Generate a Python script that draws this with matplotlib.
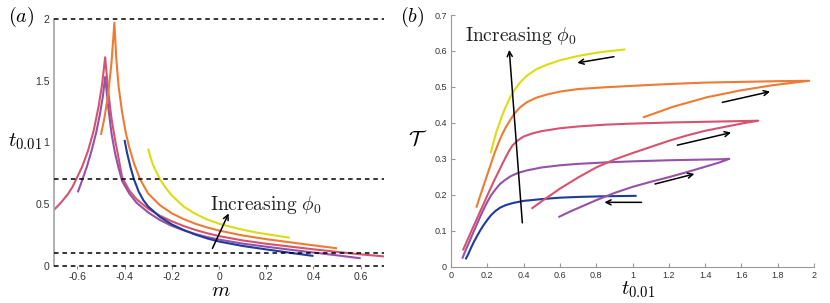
import numpy as np
import matplotlib
matplotlib.use("Agg")
import matplotlib.pyplot as plt
from matplotlib.ticker import FuncFormatter

plt.rcParams.update({
    "font.family": ["Liberation Sans", "DejaVu Sans"],
    "mathtext.fontset": "cm",
    "axes.unicode_minus": False,
})

COLORS = {
    "blue":   "#1d3c9c",
    "purple": "#9552a7",
    "pink":   "#d6526f",
    "orange": "#ee7b33",
    "yellow": "#dcdc12",
}

# ── (a) t_0.01 against m, one curve per phi_0 ────────────────────────────────
blue_m = [-0.40, -0.39, -0.375, -0.36, -0.34, -0.32, -0.30, -0.25, -0.20, -0.15,
          -0.10, -0.05, 0.00, 0.10, 0.20, 0.30, 0.40]
blue_t = [1.02, 0.92, 0.80, 0.70, 0.60, 0.53, 0.48, 0.395, 0.335, 0.29,
          0.252, 0.221, 0.196, 0.16, 0.132, 0.105, 0.079]

purple_m = [-0.598, -0.58, -0.56, -0.54, -0.52, -0.505, -0.492, -0.482, -0.47, -0.455,
            -0.44, -0.425, -0.41, -0.38, -0.35, -0.30, -0.25, -0.20, -0.15, -0.10,
            -0.05, 0.00, 0.10, 0.20, 0.30, 0.40, 0.50, 0.60]
purple_t = [0.595, 0.69, 0.80, 0.93, 1.08, 1.22, 1.37, 1.53, 1.30, 1.07,
            0.91, 0.79, 0.685, 0.585, 0.512, 0.432, 0.37, 0.323, 0.287, 0.257,
            0.232, 0.212, 0.179, 0.154, 0.13, 0.107, 0.084, 0.06]

pink_m = [-0.70, -0.67, -0.64, -0.62, -0.605, -0.58, -0.555, -0.53, -0.51, -0.495,
          -0.482, -0.47, -0.455, -0.44, -0.425, -0.41, -0.38, -0.35, -0.30, -0.25,
          -0.20, -0.15, -0.10, -0.05, 0.00, 0.10, 0.20, 0.30, 0.40, 0.50, 0.60, 0.70]
pink_t = [0.45, 0.51, 0.58, 0.64, 0.70, 0.80, 0.93, 1.10, 1.29, 1.47,
          1.69, 1.43, 1.19, 1.02, 0.87, 0.715, 0.61, 0.54, 0.462, 0.405,
          0.36, 0.322, 0.29, 0.263, 0.24, 0.205, 0.178, 0.155, 0.133, 0.112, 0.092, 0.075]

orange_m = [-0.50, -0.485, -0.47, -0.455, -0.443, -0.435, -0.425, -0.41, -0.395, -0.38,
            -0.36, -0.334, -0.30, -0.25, -0.20, -0.15, -0.10, -0.05, 0.00, 0.10,
            0.20, 0.30, 0.40, 0.50]
orange_t = [1.06, 1.20, 1.38, 1.65, 1.97, 1.68, 1.45, 1.24, 1.08, 0.96,
            0.83, 0.70, 0.585, 0.49, 0.425, 0.378, 0.34, 0.31, 0.285, 0.245,
            0.215, 0.19, 0.165, 0.141]

yellow_m = [-0.30, -0.29, -0.28, -0.265, -0.25, -0.225, -0.20, -0.15, -0.10, -0.05,
            0.00, 0.05, 0.10, 0.15, 0.20, 0.25, 0.30]
yellow_t = [0.95, 0.88, 0.82, 0.76, 0.70, 0.63, 0.57, 0.48, 0.42, 0.375,
            0.34, 0.315, 0.292, 0.272, 0.256, 0.241, 0.227]

hlines_a = [0.0, 0.1, 0.7, 2.0]

# ── (b) T against t_0.01 ─────────────────────────────────────────────────────
blue_x = [0.083, 0.095, 0.11, 0.125, 0.14, 0.16, 0.18, 0.20, 0.22, 0.245,
          0.27, 0.30, 0.34, 0.40, 0.50, 0.60, 0.70, 0.85, 1.017]
blue_y = [0.023, 0.035, 0.052, 0.068, 0.082, 0.100, 0.116, 0.130, 0.143, 0.155,
          0.164, 0.171, 0.177, 0.183, 0.188, 0.192, 0.194, 0.196, 0.197]

purple_x = [0.597, 0.65, 0.70, 0.80, 0.90, 1.00, 1.10, 1.20, 1.30, 1.40, 1.48, 1.533,
            1.50, 1.40, 1.20, 1.00, 0.85, 0.70, 0.60, 0.50, 0.42, 0.37, 0.33, 0.30,
            0.27, 0.245, 0.22, 0.20, 0.18, 0.16, 0.14, 0.12, 0.10, 0.08, 0.064]
purple_y = [0.139, 0.152, 0.163, 0.185, 0.205, 0.222, 0.236, 0.249, 0.263, 0.278, 0.290, 0.300,
            0.299, 0.298, 0.296, 0.293, 0.290, 0.286, 0.282, 0.276, 0.268, 0.261, 0.252, 0.242,
            0.230, 0.215, 0.198, 0.180, 0.160, 0.138, 0.115, 0.092, 0.068, 0.045, 0.025]

pink_x = [0.448, 0.50, 0.60, 0.70, 0.80, 0.90, 1.00, 1.10, 1.20, 1.30, 1.40, 1.50, 1.60, 1.693,
          1.60, 1.40, 1.20, 1.00, 0.85, 0.70, 0.60, 0.50, 0.45, 0.40, 0.37, 0.34, 0.32,
          0.30, 0.28, 0.26, 0.24, 0.22, 0.20, 0.18, 0.16, 0.14, 0.12, 0.10, 0.085, 0.068]
pink_y = [0.163, 0.182, 0.217, 0.248, 0.276, 0.298, 0.316, 0.333, 0.350, 0.365, 0.378, 0.388, 0.398, 0.406,
          0.405, 0.403, 0.401, 0.398, 0.395, 0.390, 0.385, 0.377, 0.371, 0.362, 0.352, 0.338, 0.322,
          0.303, 0.283, 0.262, 0.242, 0.220, 0.198, 0.175, 0.153, 0.130, 0.108, 0.085, 0.068, 0.048]

orange_x = [1.063, 1.225, 1.408, 1.592, 1.776, 1.974,
            1.80, 1.60, 1.40, 1.20, 1.00, 0.85, 0.70, 0.60, 0.53, 0.47, 0.42, 0.38,
            0.35, 0.325, 0.30, 0.28, 0.26, 0.24, 0.22, 0.20, 0.18, 0.16, 0.141]
orange_y = [0.416, 0.445, 0.471, 0.490, 0.505, 0.517,
            0.516, 0.514, 0.512, 0.508, 0.503, 0.499, 0.494, 0.487, 0.479, 0.470, 0.458, 0.443,
            0.426, 0.407, 0.386, 0.366, 0.342, 0.316, 0.286, 0.256, 0.226, 0.196, 0.167]

yellow_x = [0.22, 0.235, 0.25, 0.265, 0.28, 0.30, 0.325, 0.35, 0.38, 0.42,
            0.47, 0.53, 0.60, 0.70, 0.80, 0.88, 0.955]
yellow_y = [0.318, 0.348, 0.375, 0.396, 0.418, 0.443, 0.470, 0.492, 0.512, 0.532,
            0.549, 0.562, 0.574, 0.586, 0.595, 0.600, 0.604]

# direction arrows in (b): (x_tail, y_tail, x_head, y_head)
arrows_b = [
    (0.393, 0.122, 0.321, 0.603),
    (0.898, 0.584, 0.696, 0.567),
    (1.495, 0.457, 1.758, 0.487),
    (1.247, 0.338, 1.543, 0.373),
    (1.124, 0.230, 1.341, 0.258),
    (1.050, 0.179, 0.845, 0.179),
]

W, H = 830, 303
fig = plt.figure(figsize=(W / 100, H / 100), dpi=100)

LW = 1.5
fmt = FuncFormatter(lambda v, _: f"{v:g}")

# ── Panel (a) ────────────────────────────────────────────────────────────────
ax1 = fig.add_axes([53.7 / W, 1 - 265.7 / H, 330.6 / W, 246.7 / H])
for m, t, c in [(pink_m, pink_t, "pink"), (purple_m, purple_t, "purple"),
                (blue_m, blue_t, "blue"), (orange_m, orange_t, "orange"),
                (yellow_m, yellow_t, "yellow")]:
    ax1.plot(m, t, color=COLORS[c], lw=LW, solid_capstyle="butt")
for y in hlines_a:
    ax1.axhline(y, color="black", lw=1.1, ls=(0, (3, 2.5)), clip_on=False, zorder=3)

ax1.set_xlim(-0.7, 0.7)
ax1.set_ylim(0, 2)
for s in ["top", "right", "bottom"]:
    ax1.spines[s].set_visible(False)
ax1.spines["left"].set_color("#aaaaaa")
ax1.spines["left"].set_linewidth(1.3)
ax1.set_xticks([-0.6, -0.4, -0.2, 0, 0.2, 0.4, 0.6])
ax1.set_yticks([0, 0.5, 1, 1.5, 2])
ax1.xaxis.set_major_formatter(fmt)
ax1.yaxis.set_major_formatter(fmt)
ax1.tick_params(axis="x", direction="out", length=2.5, color="#888888",
                labelsize=7.5, labelcolor="#333333", pad=2)
ax1.tick_params(axis="y", length=0, labelsize=7.5, labelcolor="#333333", pad=3)

ax1.text(-0.038, 0.49, r"$\mathrm{Increasing}\ \phi_0$", fontsize=14,
         va="center", ha="left", color="#222222")
ax1.annotate("", xy=(0.041, 0.424), xytext=(-0.028, 0.14),
             arrowprops=dict(arrowstyle="->", lw=1.1, color="black",
                             shrinkA=0, shrinkB=0, mutation_scale=9))

# ── Panel (b) ────────────────────────────────────────────────────────────────
ax2 = fig.add_axes([451 / W, 1 - 266.7 / H, 363 / W, 251.7 / H])
for x, y, c in [(blue_x, blue_y, "blue"), (purple_x, purple_y, "purple"),
                (pink_x, pink_y, "pink"), (orange_x, orange_y, "orange"),
                (yellow_x, yellow_y, "yellow")]:
    ax2.plot(x, y, color=COLORS[c], lw=LW)
for x0, y0, x1, y1 in arrows_b:
    ax2.annotate("", xy=(x1, y1), xytext=(x0, y0),
                 arrowprops=dict(arrowstyle="->", lw=1.1, color="black",
                                 shrinkA=0, shrinkB=0, mutation_scale=9))
ax2.text(0.077, 0.642, r"$\mathrm{Increasing}\ \phi_0$", fontsize=14,
         va="center", ha="left", color="#222222")

ax2.set_xlim(0, 2)
ax2.set_ylim(0, 0.7)
for s in ["top", "right"]:
    ax2.spines[s].set_visible(False)
for s in ["left", "bottom"]:
    ax2.spines[s].set_color("#999999")
    ax2.spines[s].set_linewidth(0.8)
ax2.set_xticks(np.arange(0, 2.01, 0.2))
ax2.set_yticks(np.arange(0, 0.71, 0.1))
ax2.xaxis.set_major_formatter(fmt)
ax2.yaxis.set_major_formatter(fmt)
ax2.tick_params(direction="in", length=3, color="#999999", labelsize=6.5,
                labelcolor="#333333", pad=3)

# ── Labels ───────────────────────────────────────────────────────────────────
fig.text(21 / W, 1 - 17 / H, r"$(a)$", fontsize=14.5, ha="center", va="center")
fig.text(412 / W, 1 - 17 / H, r"$(b)$", fontsize=14.5, ha="center", va="center")
fig.text(25 / W, 1 - 142 / H, r"$t_{0.01}$", fontsize=15, ha="center", va="center")
fig.text(221 / W, 1 - 290 / H, r"$m$", fontsize=15, ha="center", va="center")
fig.text(638 / W, 1 - 290 / H, r"$t_{0.01}$", fontsize=15, ha="center", va="center")
fig.text(418 / W, 1 - 140 / H, r"$\mathcal{T}$", fontsize=15, ha="center", va="center")

fig.savefig("out.png", dpi=100)
